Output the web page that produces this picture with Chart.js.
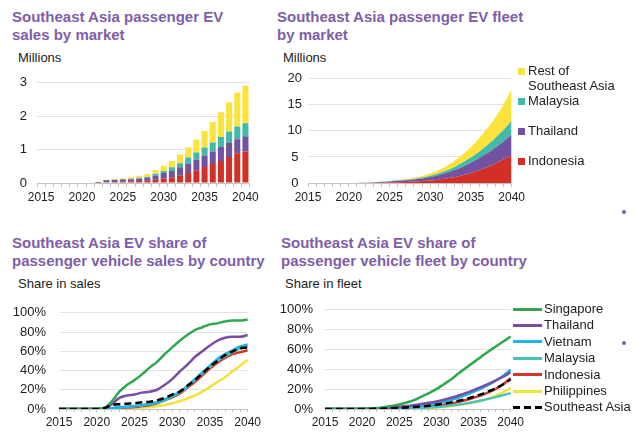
<!DOCTYPE html>
<html><head><meta charset="utf-8">
<script src="https://cdn.jsdelivr.net/npm/chart.js@4"></script>
<style>
body{margin:0;background:#fff;width:635px;height:432px;overflow:hidden;position:relative;font-family:"Liberation Sans",Arial,sans-serif;}
.t{position:absolute;color:#7E5EA9;font-weight:bold;font-size:15px;line-height:18px;white-space:nowrap}
.u{position:absolute;color:#222;font-size:13px;line-height:15px;white-space:nowrap}
.c{position:absolute}
.sq{position:absolute;width:7px;height:7px}
.ln{position:absolute;width:29px;height:3px}
.dot{position:absolute;width:4px;height:4px;border-radius:50%;background:#7E5EA9}
</style>
</head><body>
<div class="t" style="left:12px;top:8px">Southeast Asia passenger EV<br>sales by market</div>
<div class="t" style="left:277px;top:8px">Southeast Asia passenger EV fleet<br>by market</div>
<div class="t" style="left:12px;top:234px">Southeast Asia EV share of<br>passenger vehicle sales by country</div>
<div class="t" style="left:281px;top:234px">Southeast Asia EV share of<br>passenger vehicle fleet by country</div>
<div class="u" style="left:18px;top:50px">Millions</div>
<div class="u" style="left:283px;top:50px">Millions</div>
<div class="u" style="left:18px;top:276px">Share in sales</div>
<div class="u" style="left:285px;top:276px">Share in fleet</div>

<canvas id="c1" class="c" width="262" height="150" style="left:0;top:65px"></canvas>
<canvas id="c2" class="c" width="258" height="150" style="left:270px;top:65px"></canvas>
<canvas id="c3" class="c" width="264" height="140" style="left:0;top:292px"></canvas>
<canvas id="c4" class="c" width="257" height="142" style="left:270px;top:290px"></canvas>

<div id="leg2"></div>
<div id="leg4"></div>
<div class="dot" style="left:622px;top:210px"></div>
<div class="dot" style="left:622px;top:341px"></div>

<script>
const years = [2015,2016,2017,2018,2019,2020,2021,2022,2023,2024,2025,2026,2027,2028,2029,2030,2031,2032,2033,2034,2035,2036,2037,2038,2039,2040];
const tickYears = [2015,2020,2025,2030,2035,2040];

// Sales by market (millions), stacked
const marketNames = ["Indonesia","Thailand","Malaysia","Rest of Southeast Asia"];
const salesIndonesia = [0,0,0,0,0,0,0,0.01,0.02,0.03,0.04,0.05,0.06,0.07,0.10,0.13,0.17,0.22,0.30,0.38,0.48,0.57,0.66,0.78,0.89,0.94];
const salesThailand  = [0,0,0,0,0,0,0,0.01,0.06,0.06,0.06,0.06,0.07,0.09,0.12,0.17,0.19,0.25,0.27,0.32,0.34,0.37,0.42,0.42,0.42,0.46];
const salesMalaysia  = [0,0,0,0,0,0,0,0.01,0.01,0.01,0.02,0.02,0.03,0.03,0.06,0.06,0.11,0.12,0.19,0.21,0.24,0.27,0.30,0.34,0.38,0.39];
const salesRest      = [0,0,0,0,0,0,0,0.01,0.01,0.02,0.02,0.04,0.06,0.08,0.11,0.16,0.19,0.26,0.31,0.39,0.50,0.62,0.74,0.88,1.01,1.12];

// Fleet by market (millions), stacked
const fleetIndonesia = [0,0,0,0,0,0,0,0.01,0.03,0.06,0.10,0.15,0.20,0.27,0.36,0.48,0.64,0.85,1.13,1.48,1.92,2.43,3.02,3.72,4.50,5.30];
const fleetThailand  = [0,0,0,0,0,0,0.01,0.02,0.08,0.14,0.20,0.26,0.33,0.41,0.52,0.68,0.86,1.10,1.35,1.65,1.96,2.30,2.68,3.06,3.45,4.00];
const fleetMalaysia  = [0,0,0,0,0,0,0,0.01,0.02,0.03,0.04,0.06,0.08,0.11,0.16,0.22,0.32,0.43,0.60,0.80,1.02,1.27,1.55,1.86,2.20,2.70];
const fleetRest      = [0,0,0,0,0,0,0,0.01,0.02,0.04,0.06,0.10,0.15,0.22,0.32,0.46,0.64,0.88,1.18,1.55,2.00,2.55,3.20,3.95,4.90,6.10];
const fleetLegend = ["Rest of\nSoutheast Asia","Malaysia","Thailand","Indonesia"];

// EV share of sales (%)
const countryNames = ["Singapore","Thailand","Vietnam","Malaysia","Indonesia","Philippines","Southeast Asia"];
const shareSalesSingapore   = [0,0,0,0,0,0,1,8,18,25,30,36,43,49,57,64,71,77,82,85,88,89,91,92,92,93];
const shareSalesThailand    = [0,0,0,0,0,0,1,5,11.5,14,15,17,18,20,25,31,39,46,54,60,66,71,74,75,75,77];
const shareSalesVietnam     = [0,0,0,0,0,0,0,1,2,2.5,3,4,5,7,10,14,18,24,31,38,45,52,57,61,65,67];
const shareSalesMalaysia    = [0,0,0,0,0,0,0,0.5,1.5,2,3,4,5,6.5,9,13,17,23,30,37,44,50,55,59,63,65];
const shareSalesIndonesia   = [0,0,0,0,0,0,0,0.5,1,1.5,2,3,4,6,9,12,16,22,28,35,42,48,53,57,59,61];
const shareSalesPhilippines = [0,0,0,0,0,0,0,0,0.5,0.5,1,1.5,2,3,4,6,8,11,14,18,23,28,33,39,45,51];
const shareSalesSEA         = [0,0,0,0,0,0,1,4,5,5.5,6,7,7.5,9,11.5,15,18,24,30,37,44,50,56,60,63,64];

// EV share of fleet (%)
const shareFleetSingapore   = [0,0,0,0,0,0.3,0.6,1,2,3,4.5,6.5,9,12.5,16,20,25,30,36,41.5,47,52.5,58,63,68,73];
const shareFleetThailand    = [0,0,0,0,0,0,0.2,0.5,1,1.5,2.2,3,4,5,6.2,7.6,9.3,11.3,13.6,16.2,19,22,25.3,28.8,32.5,37];
const shareFleetVietnam     = [0,0,0,0,0,0,0,0.1,0.3,0.5,1,1.5,2.2,3,4.2,5.6,7.3,9.3,11.6,14.2,17.2,20.5,24.2,28.5,33.5,39.5];
const shareFleetMalaysia    = [0,0,0,0,0,0,0,0.1,0.2,0.3,0.4,0.6,0.8,1.1,1.5,2,2.7,3.5,4.5,5.6,7,8.5,10.2,12,14,16];
const shareFleetIndonesia   = [0,0,0,0,0,0,0,0.1,0.2,0.4,0.6,0.9,1.3,1.8,2.5,3.3,4.3,5.6,7.2,9,11.2,13.8,16.8,20.3,25,31];
const shareFleetPhilippines = [0,0,0,0,0,0,0,0,0.1,0.1,0.2,0.3,0.5,0.8,1.1,1.6,2.2,3,4,5.2,6.6,8.3,10.5,13.2,17,21];
const shareFleetSEA         = [0,0,0,0,0,0,0.1,0.3,0.5,0.8,1.1,1.5,2,2.6,3.3,4.2,5.3,6.7,8.3,10.1,12.3,14.8,17.7,21,25,30];

const mktColors = {Indonesia:"#D22F27",Thailand:"#7452A2",Malaysia:"#43B9A9",Rest:"#FBE33B"};
const lineColors = ["#2EA84E","#7A4FA3","#1FB4E3","#4CC3B5","#D03A2E","#F4E23C","#000000"];

Chart.defaults.font.family = "'Liberation Sans', Arial, sans-serif";
Chart.defaults.color = "#222";
Chart.defaults.animation = false;

function xScale(h, tickLen) {
  return {
    type: 'category',
    grid: {drawOnChartArea:false, drawTicks:true, tickLength:tickLen, color:'#c4c4c4'},
    border: {display:true, color:'#c4c4c4'},
    ticks: {autoSkip:false, maxRotation:0, minRotation:0, padding:3, color:'#222', font:{size:12},
      callback: function(v, i){ return tickYears.includes(years[i]) ? String(years[i]) : ''; }},
    afterFit: s => { s.height = h; }
  };
}
function yScale(w, max, step, pad, pct, size, align) {
  return {
    min:0, max:max,
    grid:{color:'#e2e2e2', drawTicks:false},
    border:{display:false},
    ticks:{stepSize:step, padding:pad, color:'#222', font:{size:size}, crossAlign: align || 'near',
      callback: v => pct ? v + '%' : String(v)},
    afterFit: s => { s.width = w; }
  };
}
const basePlugins = {legend:{display:false}, tooltip:{enabled:false}};

// Chart 1: stacked bars
new Chart(document.getElementById('c1'), {
  type:'bar',
  data:{labels:years.map(String), datasets:[
    {label:marketNames[0], data:salesIndonesia, backgroundColor:mktColors.Indonesia},
    {label:marketNames[1], data:salesThailand, backgroundColor:mktColors.Thailand},
    {label:marketNames[2], data:salesMalaysia, backgroundColor:mktColors.Malaysia},
    {label:marketNames[3], data:salesRest, backgroundColor:mktColors.Rest}
  ]},
  options:{responsive:false, devicePixelRatio:1,
    layout:{padding:{top:10,right:11,bottom:0,left:0}},
    datasets:{bar:{barPercentage:0.74, categoryPercentage:1}},
    plugins:basePlugins,
    scales:{x:Object.assign(xScale(32,4),{stacked:true}), y:Object.assign(yScale(37,3,1,10,false,13),{stacked:true})}
  }
});

// Chart 2: stacked areas
const areaDs = (label, data, color, fill) => ({label, data, backgroundColor:color, borderColor:color, borderWidth:0, fill, pointRadius:0, cubicInterpolationMode:'monotone'});
new Chart(document.getElementById('c2'), {
  type:'line',
  data:{labels:years.map(String), datasets:[
    areaDs(marketNames[0], fleetIndonesia, mktColors.Indonesia, 'origin'),
    areaDs(marketNames[1], fleetThailand, mktColors.Thailand, '-1'),
    areaDs(marketNames[2], fleetMalaysia, mktColors.Malaysia, '-1'),
    areaDs(marketNames[3], fleetRest, mktColors.Rest, '-1')
  ]},
  options:{responsive:false, devicePixelRatio:1,
    layout:{padding:{top:10,right:16,bottom:0,left:0}},
    plugins:Object.assign({filler:{propagate:false}}, basePlugins),
    scales:{x:xScale(32,4), y:Object.assign(yScale(38,20,5,6,false,13,'center'),{stacked:true})}
  }
});

// Line charts
function lineDs(label, data, i) {
  const d = {label, data, borderColor:lineColors[i], backgroundColor:lineColors[i], borderWidth:2.5, pointRadius:0, fill:false, cubicInterpolationMode:'monotone', order: i===6 ? 0 : i+1};
  if (i===6) d.borderDash = [7,4];
  return d;
}
const salesSeries = [shareSalesSingapore, shareSalesThailand, shareSalesVietnam, shareSalesMalaysia, shareSalesIndonesia, shareSalesPhilippines, shareSalesSEA];
const fleetSeries = [shareFleetSingapore, shareFleetThailand, shareFleetVietnam, shareFleetMalaysia, shareFleetIndonesia, shareFleetPhilippines, shareFleetSEA];

new Chart(document.getElementById('c3'), {
  type:'line',
  data:{labels:years.map(String), datasets: salesSeries.map((s,i)=>lineDs(countryNames[i], s, i))},
  options:{responsive:false, devicePixelRatio:1,
    layout:{padding:{top:10,right:16,bottom:0,left:0}},
    plugins:basePlugins,
    scales:{x:xScale(23,3), y:yScale(59,100,20,13,true,13)}
  }
});
new Chart(document.getElementById('c4'), {
  type:'line',
  data:{labels:years.map(String), datasets: fleetSeries.map((s,i)=>lineDs(countryNames[i], s, i))},
  options:{responsive:false, devicePixelRatio:1,
    layout:{padding:{top:10,right:16,bottom:0,left:0}},
    plugins:basePlugins,
    scales:{x:xScale(23,3), y:yScale(55,100,20,12,true,13)}
  }
});

// Legend for fleet by market
const leg2 = document.getElementById('leg2');
const leg2Colors = [mktColors.Rest, mktColors.Malaysia, mktColors.Thailand, mktColors.Indonesia];
const leg2Y = [71, 101, 131, 161];
fleetLegend.forEach((name, i) => {
  const sq = document.createElement('div'); sq.className='sq';
  sq.style.left='518px'; sq.style.top=(leg2Y[i]-3)+'px'; sq.style.background=leg2Colors[i];
  leg2.appendChild(sq);
  const tx = document.createElement('div'); tx.className='u';
  tx.style.left='528px'; tx.style.top=(leg2Y[i]-8)+'px';
  tx.innerHTML = name.replace('\n','<br>');
  leg2.appendChild(tx);
});
// Legend for fleet share lines
const leg4 = document.getElementById('leg4');
countryNames.forEach((name, i) => {
  const y = 309 + i*16.4;
  const ln = document.createElement('div'); ln.className='ln';
  ln.style.left='513px'; ln.style.top=(y-1.5)+'px';
  ln.style.background = i===6 ? 'repeating-linear-gradient(90deg,#000 0 7px,transparent 7px 11px)' : lineColors[i];
  leg4.appendChild(ln);
  const tx = document.createElement('div'); tx.className='u';
  tx.style.left='544px'; tx.style.top=(y-8)+'px'; tx.textContent=name;
  leg4.appendChild(tx);
});
</script>
</body></html>
